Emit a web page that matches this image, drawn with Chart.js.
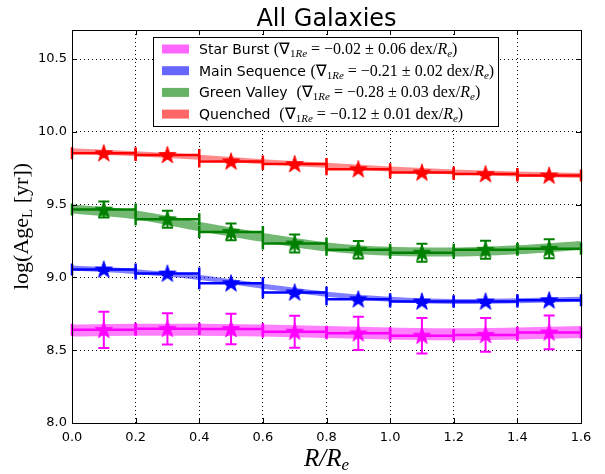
<!DOCTYPE html>
<html>
<head>
<meta charset="utf-8">
<script src="https://cdn.jsdelivr.net/npm/chart.js@4"></script>
<style>
  body { margin: 0; background: #fff; }
  #wrap { width: 605px; height: 474px; position: relative; }
</style>
</head>
<body>
<div id="wrap"><canvas id="ageChart"></canvas></div>
<script>
// bin centres (R/Re) and bin width of the radial profiles
const radius = [0.1, 0.3, 0.5, 0.7, 0.9, 1.1, 1.3, 1.5];
const binWidth = 0.2;
// radii where the smooth fit band is sampled
const fitRadius = [0.0, 0.2, 0.4, 0.6, 0.8, 1.0, 1.2, 1.4, 1.6];

// log(Age_L) per bin and its error
const ageSB = [8.640, 8.647, 8.646, 8.627, 8.616, 8.600, 8.605, 8.622];
const errSB = [0.125, 0.107, 0.105, 0.110, 0.114, 0.122, 0.116, 0.116];
const ageMS = [9.055, 9.027, 8.960, 8.897, 8.850, 8.835, 8.835, 8.843];
const errMS = [0.010, 0.010, 0.010, 0.010, 0.010, 0.010, 0.010, 0.010];
const ageGV = [9.466, 9.400, 9.313, 9.233, 9.190, 9.170, 9.190, 9.197];
const errGV = [0.055, 0.058, 0.058, 0.062, 0.060, 0.062, 0.062, 0.065];
const ageQ  = [9.854, 9.842, 9.797, 9.779, 9.744, 9.721, 9.710, 9.700];
const errQ  = [0.008, 0.008, 0.008, 0.008, 0.008, 0.008, 0.008, 0.008];

// fitted gradient bands
const fitSB = [8.635, 8.640, 8.640, 8.635, 8.625, 8.615, 8.610, 8.615, 8.625];
const fitMS = [9.065, 9.040, 9.000, 8.940, 8.885, 8.850, 8.835, 8.840, 8.850];
const fitGV = [9.470, 9.430, 9.350, 9.275, 9.210, 9.180, 9.175, 9.190, 9.220];
const fitQ  = [9.870, 9.850, 9.825, 9.795, 9.770, 9.745, 9.725, 9.710, 9.700];

const xTicks = [0.0, 0.2, 0.4, 0.6, 0.8, 1.0, 1.2, 1.4, 1.6];
const yTicks = [8.0, 8.5, 9.0, 9.5, 10.0, 10.5];

const seriesNames = ['Star Burst', 'Main Sequence', 'Green Valley ', 'Quenched '];
const gradients = [['\u22120.02', '0.06'], ['\u22120.21', '0.02'], ['\u22120.28', '0.03'], ['\u22120.12', '0.01']];

const series = [
    { age: ageSB, err: errSB, fit: fitSB, color: '#ff00ff', band: 'rgba(255,0,255,0.5)', bandWidth: 12, swatch: '#ff66ff' },
    { age: ageMS, err: errMS, fit: fitMS, color: '#0000ff', band: 'rgba(0,0,255,0.5)', bandWidth: 5, swatch: '#6666ff' },
    { age: ageGV, err: errGV, fit: fitGV, color: '#008000', band: 'rgba(0,128,0,0.55)', bandWidth: 9, swatch: '#66b366' },
    { age: ageQ,  err: errQ,  fit: fitQ,  color: '#ff0000', band: 'rgba(255,0,0,0.45)', bandWidth: 5, swatch: '#ff6666' },
];

function starImage(color) {
    const R = 9, r = R * 0.382, size = 2 * R + 2;
    const c = document.createElement('canvas');
    c.width = size; c.height = size;
    const g = c.getContext('2d');
    g.beginPath();
    for (let k = 0; k < 10; k++) {
        const rad = k % 2 ? r : R;
        const a = -Math.PI / 2 + k * Math.PI / 5;
        const px = size / 2 + rad * Math.cos(a), py = size / 2 + 0.5 + rad * Math.sin(a);
        k ? g.lineTo(px, py) : g.moveTo(px, py);
    }
    g.closePath();
    g.fillStyle = color; g.fill();
    g.strokeStyle = color; g.lineWidth = 1; g.stroke();
    return c;
}

const datasets = [];
series.forEach((s, i) => {
    datasets.push({
        label: seriesNames[i] + ' fit',
        data: fitRadius.map((x, k) => ({ x: x, y: s.fit[k] })),
        borderColor: s.band,
        borderWidth: s.bandWidth,
        pointRadius: 0,
        cubicInterpolationMode: 'monotone',
        fill: false,
        order: 1,
        seriesIndex: i
    });
});
series.forEach((s, i) => {
    datasets.push({
        label: seriesNames[i],
        data: radius.map((x, k) => ({ x: x, y: s.age[k] })),
        showLine: false,
        pointStyle: starImage(s.color),
        pointRadius: 9,
        order: 0
    });
});

// step profile with x caps and y error bars, drawn right after each band
const errorBars = {
    id: 'errorBars',
    afterDatasetDraw(chart, args) {
        const ds = chart.data.datasets[args.index];
        if (ds.seriesIndex === undefined) return;
        const s = series[ds.seriesIndex];
        const xs = chart.scales.x, ys = chart.scales.y, ctx = chart.ctx;
        ctx.save();
        ctx.strokeStyle = s.color;
        ctx.lineCap = 'butt';
        radius.forEach((r, k) => {
            const x0 = xs.getPixelForValue(r - binWidth / 2);
            const x1 = xs.getPixelForValue(r + binWidth / 2);
            const xc = xs.getPixelForValue(r);
            const y = ys.getPixelForValue(s.age[k]);
            ctx.lineWidth = 2.5;
            ctx.beginPath();
            ctx.moveTo(x0, y); ctx.lineTo(x1, y);
            ctx.moveTo(x0, y - 6); ctx.lineTo(x0, y + 6);
            ctx.moveTo(x1, y - 6); ctx.lineTo(x1, y + 6);
            ctx.stroke();
            const yt = ys.getPixelForValue(s.age[k] + s.err[k]);
            const yb = ys.getPixelForValue(s.age[k] - s.err[k]);
            ctx.lineWidth = 2;
            ctx.beginPath();
            ctx.moveTo(xc, yt); ctx.lineTo(xc, yb);
            ctx.moveTo(xc - 5.5, yt); ctx.lineTo(xc + 5.5, yt);
            ctx.moveTo(xc - 5.5, yb); ctx.lineTo(xc + 5.5, yb);
            ctx.stroke();
        });
        ctx.restore();
    }
};

function drawRich(ctx, x, y, parts) {
    parts.forEach(p => {
        ctx.font = p.font;
        ctx.fillText(p.text, x, y + (p.dy || 0));
        x += ctx.measureText(p.text).width;
    });
    return x;
}
function richWidth(ctx, parts) {
    let w = 0;
    parts.forEach(p => { ctx.font = p.font; w += ctx.measureText(p.text).width; });
    return w;
}

const SERIF = '"Liberation Serif", serif';
const frame = {
    id: 'frame',
    afterDraw(chart) {
        const ctx = chart.ctx, a = chart.chartArea;
        const xs = chart.scales.x, ys = chart.scales.y;
        ctx.save();
        ctx.fillStyle = '#000';
        ctx.strokeStyle = '#000';
        ctx.lineWidth = 1;
        // axes box and inward ticks
        ctx.strokeRect(Math.round(a.left) + 0.5, Math.round(a.top) + 0.5,
            Math.round(a.right - a.left), Math.round(a.bottom - a.top));
        ctx.beginPath();
        xTicks.forEach(v => {
            const x = Math.round(xs.getPixelForValue(v)) + 0.5;
            ctx.moveTo(x, a.bottom); ctx.lineTo(x, a.bottom - 5);
            ctx.moveTo(x, a.top); ctx.lineTo(x, a.top + 5);
        });
        yTicks.forEach(v => {
            const y = Math.round(ys.getPixelForValue(v)) + 0.5;
            ctx.moveTo(a.left, y); ctx.lineTo(a.left + 5, y);
            ctx.moveTo(a.right, y); ctx.lineTo(a.right - 5, y);
        });
        ctx.stroke();

        // title
        const cx = (a.left + a.right) / 2;
        ctx.textAlign = 'center';
        ctx.textBaseline = 'alphabetic';
        ctx.font = '24px "DejaVu Sans"';
        ctx.fillText('All Galaxies', cx, 26);

        // x axis label
        ctx.textAlign = 'left';
        const xl = [
            { text: 'R/R', font: 'italic 25px ' + SERIF },
            { text: 'e', font: 'italic 17px ' + SERIF, dy: 4 }
        ];
        drawRich(ctx, cx - richWidth(ctx, xl) / 2, 466, xl);

        // y axis label
        const yl = [
            { text: 'log(Age', font: '22px ' + SERIF },
            { text: 'L', font: '15px ' + SERIF, dy: 4 },
            { text: ' [yr])', font: '22px ' + SERIF }
        ];
        ctx.save();
        ctx.translate(28, (a.top + a.bottom) / 2);
        ctx.rotate(-Math.PI / 2);
        drawRich(ctx, -richWidth(ctx, yl) / 2, 0, yl);
        ctx.restore();

        // legend
        const lx = 153, ly = 37, lw = 345, lh = 89;
        ctx.fillStyle = '#fff';
        ctx.fillRect(lx, ly, lw, lh);
        ctx.strokeRect(lx + 0.5, ly + 0.5, lw, lh);
        series.forEach((s, i) => {
            const rowY = 49 + i * 21.7;
            ctx.fillStyle = s.swatch;
            ctx.fillRect(162, rowY - 4.5, 27, 9);
            ctx.fillStyle = '#000';
            drawRich(ctx, 199, rowY + 5, [
                { text: seriesNames[i] + ' ', font: '14px "DejaVu Sans"' },
                { text: '(\u2207', font: '16px ' + SERIF },
                { text: '1', font: '11px ' + SERIF, dy: 3 },
                { text: 'Re', font: 'italic 11px ' + SERIF, dy: 3 },
                { text: ' = ' + gradients[i][0] + ' \u00b1 ' + gradients[i][1] + ' dex/', font: '16px ' + SERIF },
                { text: 'R', font: 'italic 16px ' + SERIF },
                { text: 'e', font: 'italic 11px ' + SERIF, dy: 3 },
                { text: ')', font: '16px ' + SERIF }
            ]);
        });
        ctx.restore();
    }
};

new Chart(document.getElementById('ageChart'), {
    type: 'line',
    data: { datasets: datasets },
    options: {
        responsive: true,
        maintainAspectRatio: false,
        animation: false,
        layout: { padding: { top: 30, right: 24, left: 0, bottom: 0 } },
        plugins: { legend: { display: false }, tooltip: { enabled: false }, title: { display: false } },
        scales: {
            x: {
                type: 'linear',
                min: 0, max: 1.6,
                afterBuildTicks: scale => { scale.ticks = xTicks.map(v => ({ value: v })); },
                afterFit: scale => { scale.height = 51; },
                ticks: {
                    padding: 7,
                    color: '#000',
                    font: { family: 'DejaVu Sans', size: 13 },
                    callback: v => v.toFixed(1),
                    maxRotation: 0
                },
                grid: { color: '#000', lineWidth: 1, drawTicks: false },
                border: { display: false, dash: [1, 3] }
            },
            y: {
                type: 'linear',
                min: 8, max: 10.7,
                afterBuildTicks: scale => { scale.ticks = yTicks.map(v => ({ value: v })); },
                afterFit: scale => { scale.width = 72; },
                ticks: {
                    padding: 5,
                    color: '#000',
                    font: { family: 'DejaVu Sans', size: 13 },
                    callback: v => v.toFixed(1)
                },
                grid: { color: '#000', lineWidth: 1, drawTicks: false },
                border: { display: false, dash: [1, 3] }
            }
        }
    },
    plugins: [errorBars, frame]
});
</script>
</body>
</html>
